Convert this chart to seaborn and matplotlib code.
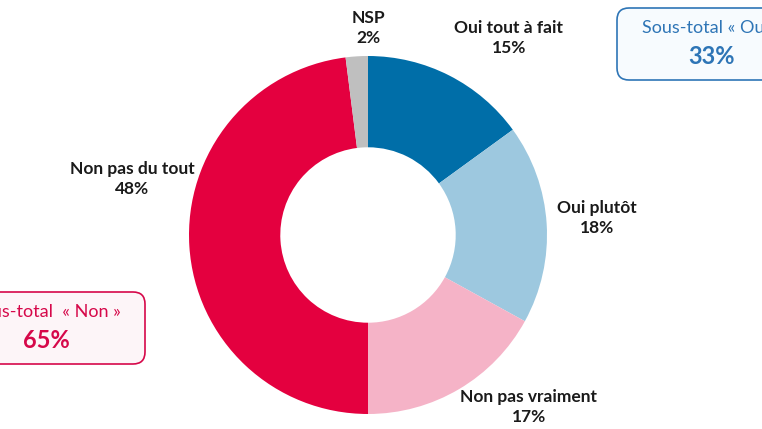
import matplotlib
matplotlib.use("Agg")
import matplotlib.pyplot as plt
import seaborn as sns
from matplotlib.patches import FancyBboxPatch

# data
categories = ["Oui tout à fait", "Oui plutôt", "Non pas vraiment", "Non pas du tout", "NSP"]
values = [15, 18, 17, 48, 2]
colors = ["#006EA8", "#9DC8DF", "#F5B3C7", "#E4003F", "#BFBFBF"]
subtotal_labels = ["Sous-total « Oui »", "Sous-total  « Non »"]
subtotal_values = ["33%", "65%"]
subtotal_colors = ["#2E75B6", "#D6084A"]

sns.set_theme(style="white")
plt.rcParams['font.family'] = ['Lato', 'DejaVu Sans']

W, H = 762, 429
fig = plt.figure(figsize=(W / 100, H / 100), dpi=100)
ax = fig.add_axes([0, 0, 1, 1])

cx, cy, r = 368, H - 235, 179
wedges, _ = ax.pie(values, colors=sns.color_palette(colors), startangle=90,
                   counterclock=False, radius=r, center=(cx, cy),
                   wedgeprops=dict(width=r * 0.51, linewidth=0), frame=True)
ax.set_xlim(0, W)
ax.set_ylim(0, H)
ax.set_aspect("equal")
ax.axis("off")

# label positions (pixel coords from top-left)
label_pos = [(509, 38), (597, 218), (529, 407), (132, 179), (368, 28)]
for cat, val, (lx, ly) in zip(categories, values, label_pos):
    ax.text(lx, H - ly, f"{cat}\n{val}%", ha="center", va="center",
            fontsize=12.5, fontweight="bold", color="#1a1a1a", linespacing=1.3)

# subtotal boxes
boxes = [(617, 8, 195, 72, 712), (-55, 292, 200, 72, 46)]
fills = ["#F7FBFE", "#FDF5F8"]
for (bx, by, bw, bh, tx), lab, v, c, f in zip(boxes, subtotal_labels, subtotal_values,
                                               subtotal_colors, fills):
    p = FancyBboxPatch((bx, H - by - bh), bw, bh, boxstyle="round,pad=0,rounding_size=12",
                       facecolor=f, edgecolor=c, linewidth=1.2, clip_on=False)
    ax.add_patch(p)
    ax.text(tx, H - by - 20, lab, ha="center", va="center", fontsize=13, color=c)
    ax.text(tx, H - by - 48, v, ha="center", va="center", fontsize=17,
            fontweight="bold", color=c)

fig.savefig("out.png", dpi=100)
